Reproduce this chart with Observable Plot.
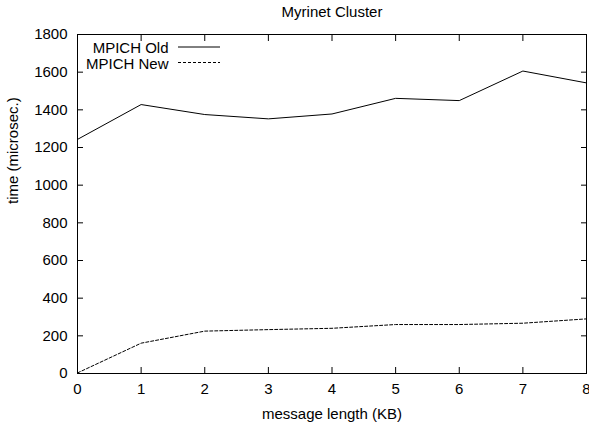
<!DOCTYPE html>
<html>
<head>
<meta charset="utf-8">
<script src="https://cdn.jsdelivr.net/npm/d3@7"></script>
<script src="https://cdn.jsdelivr.net/npm/@observablehq/plot@0.6"></script>
<style>
  html, body { margin: 0; padding: 0; background: white; }
</style>
</head>
<body>
<div id="chart"></div>
<script>
const titleText = "Myrinet Cluster";
const xLabel = "message length (KB)";
const yLabel = "time (microsec.)";
const messageKB = [0, 1, 2, 3, 4, 5, 6, 7, 8];
const mpichOld = [1243, 1428, 1375, 1352, 1378, 1461, 1449, 1606, 1543];
const mpichNew = [3, 161, 225, 233, 240, 260, 260, 267, 290];
const seriesNames = ["MPICH Old", "MPICH New"];
const xTicks = [0, 1, 2, 3, 4, 5, 6, 7, 8];
const yTicks = [0, 200, 400, 600, 800, 1000, 1200, 1400, 1600, 1800];

const oldData = messageKB.map((x, i) => ({x, y: mpichOld[i]}));
const newData = messageKB.map((x, i) => ({x, y: mpichNew[i]}));
const fmt = d => String(d);
const blank = () => "";

const chart = Plot.plot({
  width: 589,
  height: 425,
  marginLeft: 77,
  marginRight: 3,
  marginTop: 34,
  marginBottom: 52,
  style: {fontFamily: "Liberation Sans, Arial, sans-serif", fontSize: "15px", background: "white", color: "black"},
  x: {domain: [0, 8]},
  y: {domain: [0, 1800]},
  marks: [
    Plot.axisY({ticks: yTicks, tickSize: 0, tickPadding: 10, tickFormat: fmt, label: null}),
    Plot.axisY({ticks: yTicks, tickSize: -6, tickFormat: blank, label: null}),
    Plot.axisY({anchor: "right", ticks: yTicks, tickSize: -6, tickFormat: blank, label: null}),
    Plot.axisX({ticks: xTicks, tickSize: 0, tickPadding: 10, tickFormat: fmt, label: null}),
    Plot.axisX({ticks: xTicks, tickSize: -6, tickFormat: blank, label: null}),
    Plot.axisX({anchor: "top", ticks: xTicks, tickSize: -6, tickFormat: blank, label: null}),
    Plot.line(oldData, {x: "x", y: "y", stroke: "black", strokeWidth: 1}),
    Plot.line(newData, {x: "x", y: "y", stroke: "black", strokeWidth: 1, strokeDasharray: "3,2"}),
    Plot.frame({stroke: "black", strokeWidth: 1}),
    Plot.text([titleText], {frameAnchor: "top", lineAnchor: "middle", dy: -22, text: d => d}),
    Plot.text([xLabel], {frameAnchor: "bottom", lineAnchor: "middle", dy: 41, text: d => d}),
    Plot.text([yLabel], {frameAnchor: "left", lineAnchor: "middle", dx: -64, rotate: -90, text: d => d}),
    Plot.text(seriesNames, {frameAnchor: "top-left", lineAnchor: "middle", dx: 91, text: d => d, textAnchor: "end", filter: (d, i) => i === 0, dy: 13.5}),
    Plot.text(seriesNames, {frameAnchor: "top-left", lineAnchor: "middle", dx: 91, text: d => d, textAnchor: "end", filter: (d, i) => i === 1, dy: 29.5})
  ]
});

// legend line samples
const svg = d3.select(chart);
const legendDash = [null, "3,2"];
seriesNames.forEach((name, i) => {
  svg.append("line")
    .attr("x1", 178).attr("x2", 220)
    .attr("y1", 47 + 15.5 * i).attr("y2", 47 + 15.5 * i)
    .attr("stroke", "black").attr("stroke-width", 1)
    .attr("stroke-dasharray", legendDash[i]);
});

document.getElementById("chart").appendChild(chart);
</script>
</body>
</html>
